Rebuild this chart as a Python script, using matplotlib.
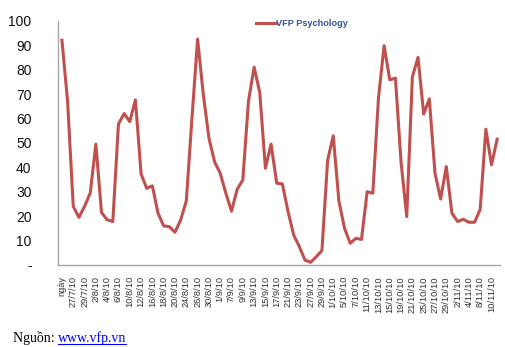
import matplotlib
matplotlib.use("Agg")
import matplotlib.pyplot as plt
from matplotlib.lines import Line2D

# values, one per trading day (first point sits on "ngày")
psychology = [92, 67, 24, 19.5, 24, 29.4, 49.5, 21.5, 18.5, 17.8,
              57.7, 62, 58.7, 67.6, 37.3, 31.4, 32.4, 21.2, 16, 15.7,
              13.4, 18.4, 26.2, 60, 92.5, 70, 52, 42.3, 37.6, 29.4,
              22, 31, 34.8, 67, 81, 70.6, 39.6, 49.5, 33.5, 33.2,
              21.9, 12.3, 7.5, 2, 1.1, 3.4, 5.9, 42.8, 52.9, 26.2,
              15, 8.9, 10.9, 10.5, 30, 29.4, 68.3, 89.8, 75.8, 76.5,
              42, 19.8, 77, 85, 61.8, 68, 37.6, 27, 40.3, 21.2,
              17.8, 18.7, 17.5, 17.5, 22.8, 55.6, 41, 51.5]

# only every other category is labelled on the axis
tick_labels = ["ngày", "27/7/10", "29/7/10", "2/8/10", "4/8/10", "6/8/10",
               "10/8/10", "12/8/10", "16/8/10", "18/8/10", "20/8/10",
               "24/8/10", "26/8/10", "30/8/10", "1/9/10", "7/9/10", "9/9/10",
               "13/9/10", "15/9/10", "17/9/10", "21/9/10", "23/9/10",
               "27/9/10", "29/9/10", "1/10/10", "5/10/10", "7/10/10",
               "11/10/10", "13/10/10", "15/10/10", "19/10/10", "21/10/10",
               "25/10/10", "27/10/10", "29/10/10", "2/11/10", "4/11/10",
               "8/11/10", "10/11/10"]

y_ticks = [0, 10, 20, 30, 40, 50, 60, 70, 80, 90, 100]
y_tick_labels = ["-"] + [str(v) for v in y_ticks[1:]]

fig = plt.figure(figsize=(5.06, 3.47), dpi=100)
ax = fig.add_axes([0.1146, 0.2363, 0.8735, 0.704])

ax.plot(range(len(psychology)), psychology, color="#C0504D", lw=2.2,
        label="VFP Psychology", solid_joinstyle="round")

ax.set_xlim(-0.7, 77.5)
ax.set_ylim(0, 100)
ax.set_yticks(y_ticks)
ax.set_yticklabels(y_tick_labels, fontsize=10, family="Liberation Sans", color="#111111")
ax.set_xticks(range(0, 2 * len(tick_labels), 2))
ax.set_xticklabels(tick_labels, rotation=90, fontsize=6.7,
                   family="Liberation Sans", color="#333333")
ax.tick_params(axis="y", length=0, pad=19)
ax.tick_params(axis="x", length=0, pad=8)

for side in ["top", "right"]:
    ax.spines[side].set_visible(False)
for side in ["left", "bottom"]:
    ax.spines[side].set_color("#A6A6A6")
    ax.spines[side].set_linewidth(1)

leg = ax.legend(loc="upper left", bbox_to_anchor=(0.43, 1.04), frameon=False,
                handlelength=2.2, handletextpad=0.0,
                prop={"family": "Liberation Sans", "weight": "bold", "size": 6.6},
                labelcolor="#2E5597")

# source line at the bottom
fig.text(13 / 506, 1 - 338 / 347, "Nguồn: ", family="Liberation Serif",
         fontsize=10, va="center", ha="left")
link = fig.text(58 / 506, 1 - 338 / 347, "www.vfp.vn", family="Liberation Serif",
                fontsize=10, va="center", ha="left", color="#0000FF")
fig.canvas.draw()
bb = link.get_window_extent(fig.canvas.get_renderer())
uy = (bb.y0 + 1) / fig.bbox.height
fig.add_artist(Line2D([bb.x0 / fig.bbox.width, bb.x1 / fig.bbox.width], [uy, uy],
                      transform=fig.transFigure, color="#0000FF", lw=0.8))

fig.savefig("out.png", dpi=100)
